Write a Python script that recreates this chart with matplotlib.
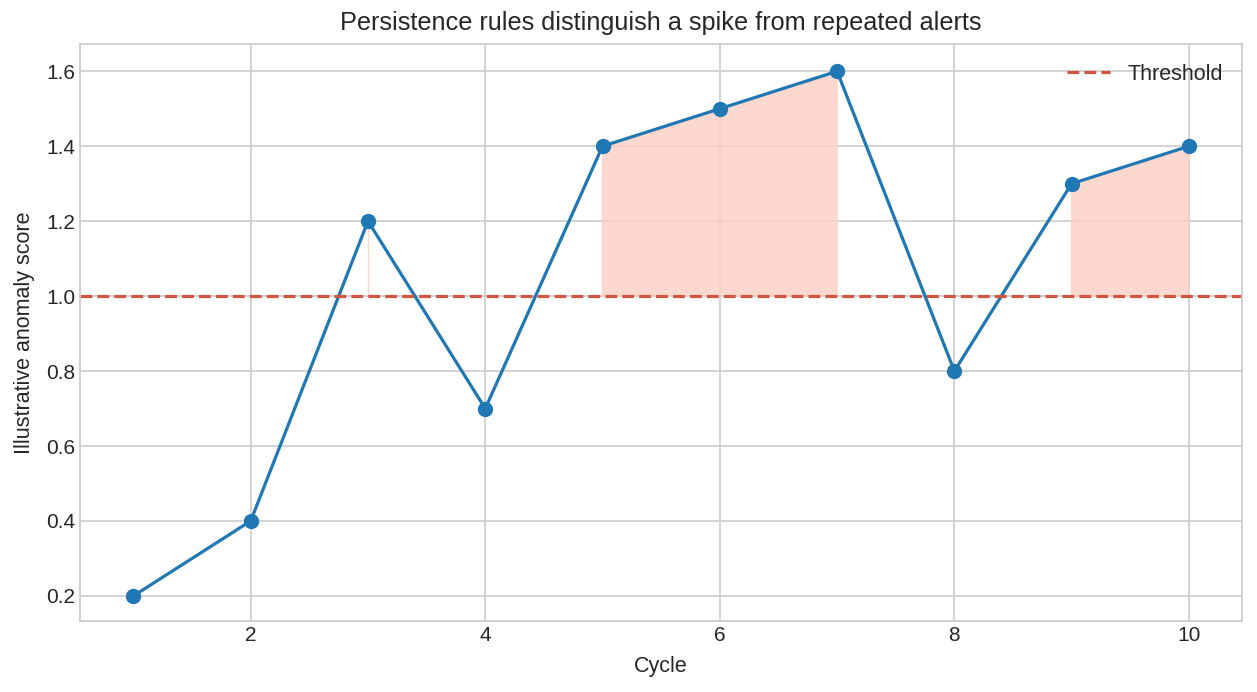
import matplotlib
matplotlib.use("Agg")
import matplotlib.pyplot as plt
import numpy as np

cycles = np.arange(1, 11)
scores = np.array([0.2, 0.4, 1.2, 0.7, 1.4, 1.5, 1.6, 0.8, 1.3, 1.4])
threshold = 1.0

plt.style.use("seaborn-v0_8-whitegrid")
plt.rcParams["font.family"] = ["Arial", "Liberation Sans", "DejaVu Sans"]

fig, ax = plt.subplots(figsize=(12.57, 6.92), dpi=100)
fig.subplots_adjust(left=0.064, right=0.988, top=0.936, bottom=0.1026)

ax.fill_between(cycles, threshold, scores, where=scores >= threshold,
                facecolor="#fdcfc2", edgecolor="#fdcfc2", alpha=0.8, linewidth=1)
ax.plot(cycles, scores, color="#1f77b4", linewidth=2.3, marker="o", markersize=10)
ax.axhline(threshold, color="#d1553f", linestyle="--", linewidth=2.3, label="Threshold")

ax.set_title("Persistence rules distinguish a spike from repeated alerts", fontsize=18.2, pad=10)
ax.set_xlabel("Cycle", fontsize=15.5, labelpad=8)
ax.set_ylabel("Illustrative anomaly score", fontsize=15.5, labelpad=8)
ax.tick_params(labelsize=15)
ax.set_yticks([0.2, 0.4, 0.6, 0.8, 1.0, 1.2, 1.4, 1.6])
ax.set_xticks([2, 4, 6, 8, 10])
ax.set_xlim(0.548, 10.452)
ax.set_ylim(0.133, 1.672)
for s in ax.spines.values():
    s.set_visible(True)
    s.set_color("#cccccc")
    s.set_linewidth(1.3)
ax.grid(color="#cccccc", linewidth=1.2)
ax.legend(loc="upper right", fontsize=15.5, frameon=False)

fig.savefig("out.png", dpi=100)
